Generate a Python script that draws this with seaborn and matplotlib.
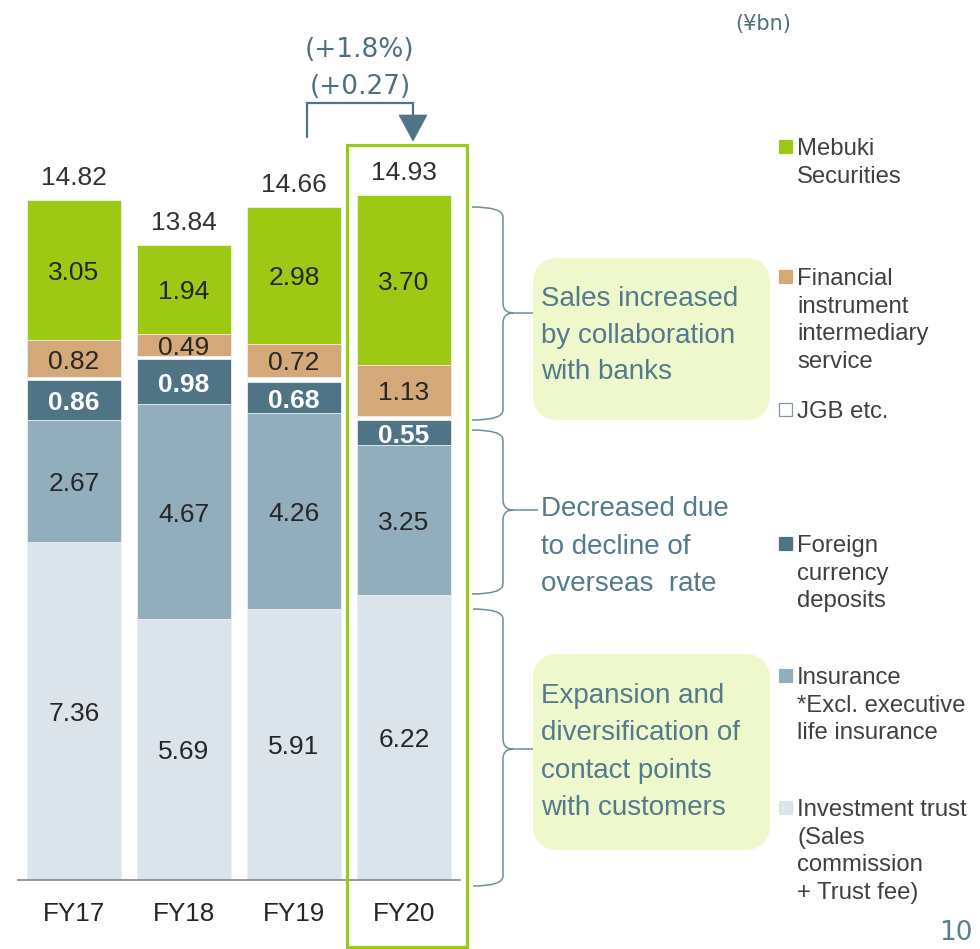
import numpy as np
import pandas as pd
import matplotlib
matplotlib.use('Agg')
import matplotlib.pyplot as plt
import seaborn as sns
from matplotlib.path import Path
from matplotlib.patches import PathPatch, FancyBboxPatch, Rectangle, Polygon
from matplotlib.lines import Line2D
from matplotlib.transforms import Affine2D, offset_copy

# ---------------- data ----------------
years = ['FY17', 'FY18', 'FY19', 'FY20']
investment_trust = [7.36, 5.69, 5.91, 6.22]
insurance = [2.67, 4.67, 4.26, 3.25]
foreign_deposits = [0.86, 0.98, 0.68, 0.55]
jgb = [0.06, 0.07, 0.11, 0.08]
financial_instr = [0.82, 0.49, 0.72, 1.13]
mebuki = [3.05, 1.94, 2.98, 3.70]
totals = [14.82, 13.84, 14.66, 14.93]

series_names = ['Investment trust', 'Insurance', 'Foreign currency deposits',
                'JGB etc.', 'Financial instrument intermediary service',
                'Mebuki Securities']
series_vals = [investment_trust, insurance, foreign_deposits, jgb,
               financial_instr, mebuki]
colors = ['#dbe4ea', '#92adbb', '#4f7485', '#ffffff', '#d4a878', '#9dc814']

change_pct = '(+1.8%)'
change_abs = '(+0.27)'

# ---------------- style ----------------
sns.set_theme(style='white')
plt.rcParams['font.family'] = ['Liberation Sans', 'Noto Sans CJK JP', 'DejaVu Sans']

W, H = 980, 949
fig = plt.figure(figsize=(W / 100, H / 100), dpi=100)
T = Affine2D().scale(1 / W, -1 / H).translate(0, 1) + fig.transFigure  # pixel coords (top-left origin)

ax = fig.add_axes([18 / W, 69 / H, 442 / W, 880 / H])

df = pd.DataFrame({'year': years})
cum = np.zeros(len(years))
cums = []
for vals in series_vals:
    cum = cum + np.array(vals)
    cums.append(cum.copy())

# draw from the top cumulative downward (overlay stacking)
for i in range(len(series_vals) - 1, -1, -1):
    d = df.copy()
    d['v'] = cums[i]
    sns.barplot(data=d, x='year', y='v', color=colors[i], saturation=1,
                width=0.855, ax=ax, edgecolor='#eef1f3', linewidth=0.6,
                zorder=2 + (len(series_vals) - i) * 0.01)

ax.set_xlim(-0.509, -0.509 + 442 / 110)
ax.set_ylim(0, 880 / 45.9)
for s in ['top', 'left', 'right']:
    ax.spines[s].set_visible(False)
ax.spines['bottom'].set_color('#7f8a90')
ax.spines['bottom'].set_linewidth(1.2)
ax.spines['bottom'].set_zorder(5)
ax.set_yticks([])
ax.set_xlabel('')
ax.set_ylabel('')
ax.set_xticks(range(len(years)))
ax.set_xticklabels(years, fontsize=18.8, color='#262626')
ax.tick_params(axis='x', length=0, pad=15.5)
ax.set_facecolor('none')

# shift labels down a little so digits sit visually centred
tdown = offset_copy(ax.transData, fig=fig, x=0, y=-3, units='dots')

# segment labels
label_idx = [0, 1, 2, 4, 5]
for i in label_idx:
    for j in range(len(years)):
        v = series_vals[i][j]
        yc = cums[i][j] - v / 2
        if i == 2:
            ax.text(j, yc, f'{v:.2f}', ha='center', va='center', fontsize=19,
                    color='white', fontweight='bold', zorder=10, transform=tdown)
        else:
            ax.text(j, yc, f'{v:.2f}', ha='center', va='center', fontsize=19,
                    color='#262626', zorder=10, transform=tdown)

# totals
for j, t in enumerate(totals):
    ax.text(j, cums[-1][j] + 0.545, f'{t:.2f}', ha='center', va='center',
            fontsize=19, color='#333333', zorder=10, transform=tdown)

# ---------------- annotations (pixel coords) ----------------
# FY20 highlight frame
fig.patches.append(Rectangle((347, 145), 120, 802, transform=T, fill=False,
                             edgecolor='#9dc814', linewidth=2.3, zorder=20))

# change bracket with arrowhead
acol = '#4f7485'
fig.lines.append(Line2D([307, 307, 413, 413], [137, 103, 103, 117], transform=T,
                        color=acol, linewidth=1.6, solid_joinstyle='miter'))
fig.patches.append(Polygon([(399, 115), (427, 115), (413, 141)], closed=True,
                           transform=T, facecolor=acol, edgecolor=acol, linewidth=0.5))
fig.text(360, 50, change_pct, transform=T, ha='center', va='center',
         fontsize=19, color='#4f7080', family='DejaVu Sans')
fig.text(360, 87, change_abs, transform=T, ha='center', va='center',
         fontsize=19, color='#4f7080', family='DejaVu Sans')

# unit
fig.text(763, 24, '(¥bn)', transform=T, ha='center', va='center',
         fontsize=15, color='#4f7080', family='DejaVu Sans')

# page number
fig.text(956, 933, '10', transform=T, ha='center', va='center',
         fontsize=19, color='#5a7f90', family='DejaVu Sans')


def brace(x0, x1, xt, yt, ym, yb, r=10):
    verts = [(x0, yt), (x1, yt), (x1, yt + r),
             (x1, ym - r), (x1, ym), (x1 + r, ym),
             (xt, ym),
             (x1 + r, ym), (x1, ym), (x1, ym + r),
             (x1, yb - r), (x1, yb), (x0, yb)]
    codes = [Path.MOVETO, Path.CURVE3, Path.CURVE3,
             Path.LINETO, Path.CURVE3, Path.CURVE3,
             Path.LINETO,
             Path.MOVETO, Path.CURVE3, Path.CURVE3,
             Path.LINETO, Path.CURVE3, Path.CURVE3]
    fig.patches.append(PathPatch(Path(verts, codes), transform=T, fill=False,
                                 edgecolor='#6f8e9c', linewidth=1.1))


brace(472, 503, 535, 207, 313, 420)
brace(472, 503, 538, 430, 510, 594)
brace(473, 503, 533, 609, 749, 886)

# green note boxes
box_fc = '#eef8cc'
fig.patches.append(FancyBboxPatch((533, 258), 237, 162, transform=T,
                                  boxstyle='round,pad=0,rounding_size=26',
                                  facecolor=box_fc, edgecolor='none'))
fig.patches.append(FancyBboxPatch((533, 654), 237, 196, transform=T,
                                  boxstyle='round,pad=0,rounding_size=26',
                                  facecolor=box_fc, edgecolor='none'))

note_col = '#547a8c'
notes = [
    (['Sales increased', 'by collaboration', 'with banks'], [296, 333, 369]),
    (['Decreased due', 'to decline of', 'overseas  rate'], [506, 544, 581]),
    (['Expansion and', 'diversification of', 'contact points', 'with customers'],
     [693, 730, 768, 805]),
]
for lines, ys in notes:
    for s, y in zip(lines, ys):
        fig.text(541, y + 3, s, transform=T, ha='left', va='center',
                 fontsize=20, color=note_col)

# legend (custom, right side)
leg_items = [
    (5, ['Mebuki', 'Securities'], 147),
    (4, ['Financial', 'instrument', 'intermediary', 'service'], 277),
    (3, ['JGB etc.'], 410),
    (2, ['Foreign', 'currency', 'deposits'], 544),
    (1, ['Insurance', '*Excl. executive', 'life insurance'], 676),
    (0, ['Investment trust', '(Sales', 'commission', '+ Trust fee)'], 808),
]
for idx, lines, y0 in leg_items:
    ec = '#7f98a4' if idx == 3 else colors[idx]
    fig.patches.append(Rectangle((779, y0 - 7), 13, 13, transform=T,
                                 facecolor=colors[idx], edgecolor=ec, linewidth=0.9))
    for k, s in enumerate(lines):
        fig.text(797, y0 + 2 + k * 27.7, s, transform=T, ha='left', va='center',
                 fontsize=17.2, color='#404040')

fig.savefig('out.png', dpi=100)
